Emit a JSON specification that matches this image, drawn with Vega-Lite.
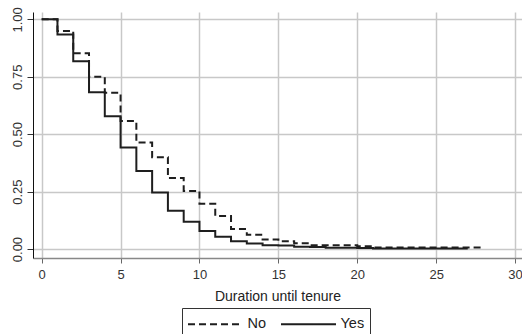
{
  "$schema": "https://vega.github.io/schema/vega-lite/v6.json",
  "width": 489,
  "height": 246,
  "autosize": "none",
  "padding": {"left": 33, "top": 12, "right": 0, "bottom": 76},
  "background": "white",
  "data": {
    "values": [
      {"t": 0, "s": 1.0, "g": "No"},
      {"t": 1, "s": 0.949, "g": "No"},
      {"t": 2, "s": 0.852, "g": "No"},
      {"t": 3, "s": 0.75, "g": "No"},
      {"t": 4, "s": 0.68, "g": "No"},
      {"t": 5, "s": 0.557, "g": "No"},
      {"t": 6, "s": 0.464, "g": "No"},
      {"t": 7, "s": 0.4, "g": "No"},
      {"t": 8, "s": 0.309, "g": "No"},
      {"t": 9, "s": 0.253, "g": "No"},
      {"t": 10, "s": 0.197, "g": "No"},
      {"t": 11, "s": 0.144, "g": "No"},
      {"t": 12, "s": 0.087, "g": "No"},
      {"t": 13, "s": 0.062, "g": "No"},
      {"t": 14, "s": 0.042, "g": "No"},
      {"t": 15, "s": 0.034, "g": "No"},
      {"t": 16, "s": 0.025, "g": "No"},
      {"t": 17, "s": 0.016, "g": "No"},
      {"t": 18, "s": 0.016, "g": "No"},
      {"t": 19, "s": 0.016, "g": "No"},
      {"t": 20, "s": 0.012, "g": "No"},
      {"t": 21, "s": 0.007, "g": "No"},
      {"t": 22, "s": 0.007, "g": "No"},
      {"t": 23, "s": 0.007, "g": "No"},
      {"t": 24, "s": 0.007, "g": "No"},
      {"t": 25, "s": 0.007, "g": "No"},
      {"t": 26, "s": 0.007, "g": "No"},
      {"t": 27, "s": 0.007, "g": "No"},
      {"t": 28, "s": 0.007, "g": "No"},
      {"t": 0, "s": 1.0, "g": "Yes"},
      {"t": 1, "s": 0.934, "g": "Yes"},
      {"t": 2, "s": 0.818, "g": "Yes"},
      {"t": 3, "s": 0.683, "g": "Yes"},
      {"t": 4, "s": 0.578, "g": "Yes"},
      {"t": 5, "s": 0.442, "g": "Yes"},
      {"t": 6, "s": 0.34, "g": "Yes"},
      {"t": 7, "s": 0.246, "g": "Yes"},
      {"t": 8, "s": 0.167, "g": "Yes"},
      {"t": 9, "s": 0.119, "g": "Yes"},
      {"t": 10, "s": 0.079, "g": "Yes"},
      {"t": 11, "s": 0.054, "g": "Yes"},
      {"t": 12, "s": 0.034, "g": "Yes"},
      {"t": 13, "s": 0.024, "g": "Yes"},
      {"t": 14, "s": 0.017, "g": "Yes"},
      {"t": 15, "s": 0.015, "g": "Yes"},
      {"t": 16, "s": 0.01, "g": "Yes"},
      {"t": 17, "s": 0.009, "g": "Yes"},
      {"t": 18, "s": 0.006, "g": "Yes"},
      {"t": 19, "s": 0.006, "g": "Yes"},
      {"t": 20, "s": 0.005, "g": "Yes"},
      {"t": 21, "s": 0.002, "g": "Yes"},
      {"t": 22, "s": 0.002, "g": "Yes"},
      {"t": 23, "s": 0.002, "g": "Yes"},
      {"t": 24, "s": 0.002, "g": "Yes"},
      {"t": 25, "s": 0.002, "g": "Yes"},
      {"t": 26, "s": 0.002, "g": "Yes"},
      {"t": 27, "s": 0.002, "g": "Yes"}
    ]
  },
  "mark": {"type": "line", "interpolate": "step-after", "color": "#1e1e1e", "strokeWidth": 2, "clip": true},
  "encoding": {
    "x": {
      "field": "t",
      "type": "quantitative",
      "scale": {"domain": [-0.55, 30.44], "nice": false, "zero": false},
      "axis": {
        "values": [0, 5, 10, 15, 20, 25, 30],
        "title": "Duration until tenure",
        "titleFontSize": 14,
        "titleFontWeight": "normal",
        "titleColor": "#222222",
        "titlePadding": 8,
        "labelFontSize": 13,
        "labelColor": "#333333",
        "labelPadding": 5,
        "labelFlush": false,
        "tickSize": 5,
        "tickColor": "#666666",
        "domainColor": "#888888",
        "domainWidth": 1.5,
        "grid": true,
        "gridColor": "#c8c8c8",
        "gridWidth": 1.5
      }
    },
    "y": {
      "field": "s",
      "type": "quantitative",
      "scale": {"domain": [-0.039, 1.032], "nice": false, "zero": false},
      "axis": {
        "values": [0, 0.25, 0.5, 0.75, 1],
        "format": ".2f",
        "title": null,
        "labelAngle": 270,
        "labelAlign": "center",
        "labelBaseline": "bottom",
        "labelFontSize": 13,
        "labelColor": "#333333",
        "labelPadding": 3,
        "labelFlush": false,
        "tickSize": 6,
        "tickColor": "#333333",
        "domainColor": "#111111",
        "domainWidth": 1,
        "grid": true,
        "gridColor": "#c8c8c8",
        "gridWidth": 1.5
      }
    },
    "strokeDash": {
      "field": "g",
      "type": "nominal",
      "scale": {"domain": ["No", "Yes"], "range": [[7, 4], [1, 0]]},
      "legend": {
        "title": null,
        "orient": "none",
        "legendX": 149,
        "legendY": 296,
        "direction": "horizontal",
        "strokeColor": "#333333",
        "padding": 5,
        "cornerRadius": 0,
        "symbolType": "M-2.75,0H2.75",
        "symbolSize": 400,
        "symbolOffset": 17.5,
        "symbolStrokeWidth": 2,
        "symbolStrokeColor": "#1e1e1e",
        "labelFontSize": 14.5,
        "labelColor": "#222222",
        "labelOffset": 21,
        "columnPadding": 10
      }
    }
  },
  "config": {"view": {"stroke": null}, "font": "Liberation Sans"}
}
